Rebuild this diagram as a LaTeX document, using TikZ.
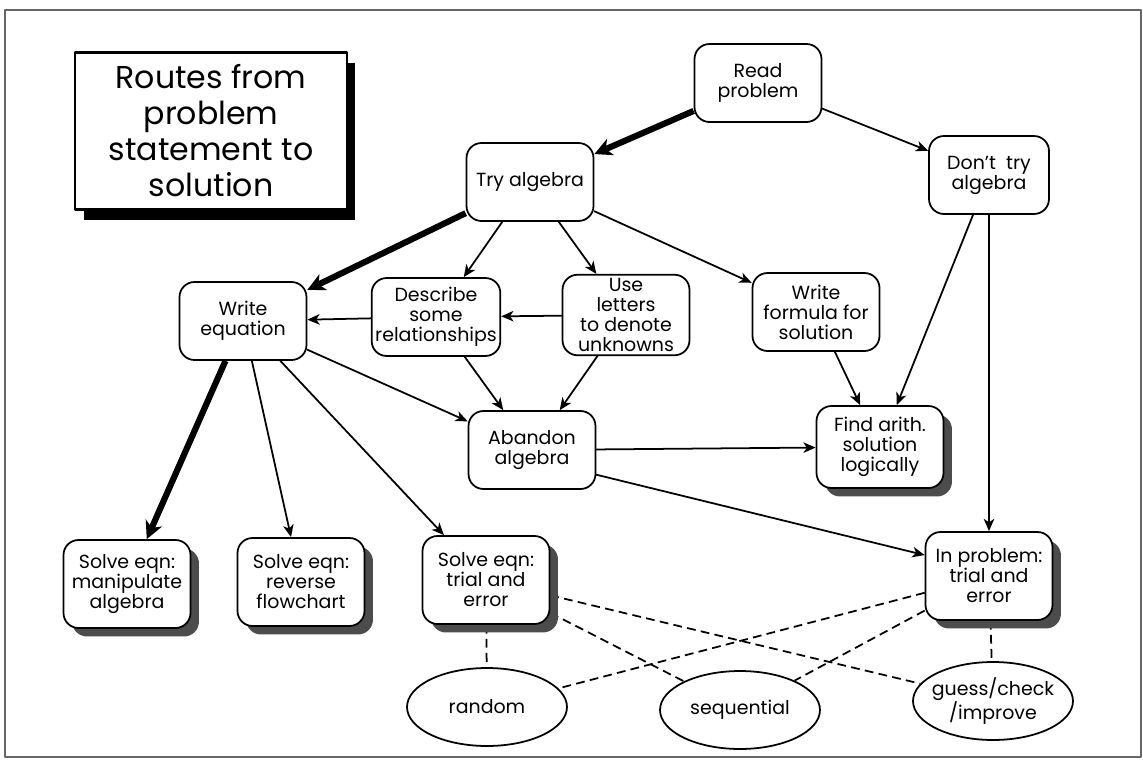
\documentclass[tikz,border=0pt]{standalone}
\usepackage{fontspec}
\setmainfont{Poppins}
\usetikzlibrary{arrows.meta,shapes.geometric,shadows,backgrounds}

\begin{document}
\begin{tikzpicture}[x=0.02cm,y=-0.02cm,line join=round,line cap=round,
	font=\fontsize{10.8}{11.4}\selectfont,
	>={Stealth[length=7pt,width=6pt,inset=2pt]},
	step box/.style={draw,line width=1pt,rounded corners=0.3cm,fill=white,align=center,
		minimum width=2.54cm,minimum height=1.56cm,inner sep=2pt},
	end box/.style={step box,minimum height=1.76cm,
		drop shadow={shadow xshift=0.17cm,shadow yshift=-0.17cm,fill=black!70,opacity=1}},
	way/.style={draw,ellipse,line width=1pt,fill=white,align=center,
		minimum width=3.2cm,minimum height=1.56cm,inner ysep=0pt,inner xsep=-0.12cm},
	go/.style={->,line width=1pt},
	main route/.style={-{Stealth[length=10pt,width=10pt,inset=3pt]},line width=3.5pt,line cap=butt},
	link/.style={dashed,line width=1pt,dash pattern=on 5pt off 3pt}]
	\useasboundingbox (0,0) rectangle (1143,761);
	% khung ngoai
	\draw[line width=1pt,black!60] (5,10) rectangle (1141,757);
	% tieu de
	\node[draw,line width=1.2pt,fill=white,align=center,minimum width=5.44cm,minimum height=3.14cm,
		font=\fontsize{18}{20.5}\selectfont,
		drop shadow={shadow xshift=0.17cm,shadow yshift=-0.21cm,fill=black,opacity=1}]
		(title) at (211,131) {Routes from\\problem\\statement to\\solution};
	% cac buoc
	\node[step box] (read) at (758,83) {Read\\problem};
	\node[step box] (try) at (530,182) {Try algebra};
	\node[step box,minimum width=2.4cm] (dont) at (989,175) {Don't\ \ try\\algebra};
	\node[step box] (writeeq) at (243,321) {Write\\equation};
	\node[step box] (describe) at (436,317) {Describe\\some\\relationships};
	\node[step box] (letters) at (626,315) {Use\\letters\\to denote\\unknowns};
	\node[step box] (formula) at (816,312) {Write\\formula for\\solution};
	\node[step box] (abandon) at (532,450) {Abandon\\algebra};
	% cac dich
	\node[end box,minimum height=1.64cm] (find) at (880,447) {Find arith.\\solution\\logically};
	\node[end box] (manip) at (127,584) {Solve eqn:\\manipulate\\algebra};
	\node[end box] (reverse) at (301,582) {Solve eqn:\\reverse\\flowchart};
	\node[end box] (trial) at (486,580) {Solve eqn:\\trial and\\error};
	\node[end box] (inprob) at (989,576) {In problem:\\trial and\\error};
	% cach thu
	\node[way] (random) at (487,707) {random};
	\node[way] (sequential) at (740,710) {sequential};
	\node[way] (guess) at (993,701) {guess/check\\/improve};
	% mui ten
	\draw[main route] (read) -- (try);
	\draw[main route] (try) -- (writeeq);
	\draw[main route] (writeeq) -- (manip);
	\draw[go] (read) -- (dont);
	\draw[go] (try) -- (describe);
	\draw[go] (try) -- (letters);
	\draw[go] (try) -- (formula);
	\draw[go] (letters) -- (describe);
	\draw[go] (describe) -- (writeeq);
	\draw[go] (describe) -- (abandon);
	\draw[go] (letters) -- (abandon);
	\draw[go] (writeeq) -- (abandon);
	\draw[go] (writeeq) -- (reverse);
	\draw[go] (writeeq) -- (trial);
	\draw[go] (formula) -- (find);
	\draw[go] (dont) -- (find);
	\draw[go] (dont) -- (inprob);
	\draw[go] (abandon) -- (find);
	\draw[go] (abandon.-21) -- (inprob.162);
	% net dut
	\begin{scope}[on background layer]
		\draw[link] (trial) -- (random);
		\draw[link] (trial) -- (sequential);
		\draw[link] (trial) -- (guess);
		\draw[link] (inprob) -- (random);
		\draw[link] (inprob) -- (sequential);
		\draw[link] (inprob) -- (guess);
	\end{scope}
\end{tikzpicture}
\end{document}
